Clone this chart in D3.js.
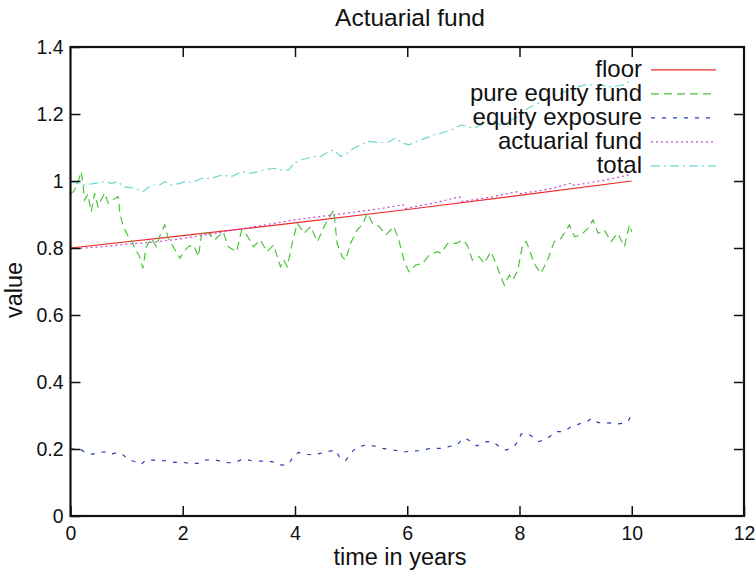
<!DOCTYPE html>
<html>
<head>
<meta charset="utf-8">
<script src="https://cdn.jsdelivr.net/npm/d3@7"></script>
<style>
	body { margin: 0; background: #fff; }
	svg { display: block; font-family: "Liberation Sans", Arial, sans-serif; }
	.line { fill: none; stroke-width: 1.2; }
</style>
</head>
<body>
<svg id="chart" width="756" height="571"></svg>
<script>
/* global d3 */
// values: [time in years, value]
const floor = [[0, 0.8], [2, 0.837], [4, 0.875], [6, 0.915], [8, 0.957], [10, 1.0]];

const pureEquityFund = [
	[0, 0.965], [0.05, 0.967], [0.12, 0.99], [0.19, 1.028], [0.22, 0.994], [0.25, 0.943], [0.31, 0.96], [0.37, 0.908],
	[0.43, 0.964], [0.49, 0.923], [0.55, 0.945], [0.61, 0.964], [0.67, 0.934], [0.76, 0.945], [0.85, 0.953], [0.88, 0.904],
	[0.94, 0.864], [1.03, 0.834], [1.1, 0.82], [1.15, 0.794], [1.22, 0.78], [1.29, 0.739], [1.35, 0.804], [1.44, 0.829],
	[1.53, 0.804], [1.6, 0.84], [1.68, 0.869], [1.74, 0.829], [1.83, 0.804], [1.95, 0.769], [2.02, 0.79], [2.1, 0.804],
	[2.19, 0.809], [2.28, 0.774], [2.34, 0.849], [2.46, 0.844], [2.57, 0.824], [2.72, 0.849], [2.81, 0.804], [2.96, 0.789],
	[3.05, 0.854], [3.14, 0.839], [3.26, 0.804], [3.38, 0.824], [3.5, 0.789], [3.62, 0.809], [3.74, 0.744], [3.8, 0.764],
	[3.86, 0.744], [3.95, 0.814], [4.04, 0.874], [4.16, 0.844], [4.28, 0.864], [4.4, 0.819], [4.49, 0.854], [4.58, 0.884],
	[4.69, 0.913], [4.75, 0.814], [4.84, 0.774], [4.9, 0.764], [4.99, 0.814], [5.11, 0.854], [5.2, 0.87], [5.29, 0.904],
	[5.38, 0.874], [5.5, 0.864], [5.62, 0.839], [5.76, 0.864], [5.85, 0.824], [5.94, 0.764], [6.03, 0.729], [6.15, 0.749],
	[6.27, 0.754], [6.39, 0.779], [6.54, 0.789], [6.6, 0.784], [6.72, 0.814], [6.87, 0.814], [6.99, 0.824], [7.07, 0.809],
	[7.16, 0.764], [7.28, 0.774], [7.37, 0.754], [7.49, 0.789], [7.58, 0.754], [7.67, 0.714], [7.73, 0.689], [7.82, 0.719],
	[7.88, 0.704], [7.97, 0.734], [8.06, 0.814], [8.12, 0.819], [8.18, 0.794], [8.26, 0.754], [8.38, 0.724], [8.5, 0.764],
	[8.62, 0.819], [8.74, 0.829], [8.89, 0.869], [8.98, 0.834], [9.1, 0.839], [9.22, 0.859], [9.31, 0.884], [9.4, 0.844],
	[9.51, 0.854], [9.63, 0.819], [9.75, 0.844], [9.87, 0.804], [9.96, 0.869], [10, 0.849]
];

const equityExposure = [
	[0, 0.199], [0.16, 0.202], [0.28, 0.187], [0.4, 0.185], [0.49, 0.189], [0.64, 0.192], [0.73, 0.185], [0.82, 0.189],
	[0.94, 0.182], [1.03, 0.169], [1.15, 0.162], [1.26, 0.154], [1.34, 0.167], [1.5, 0.167], [1.68, 0.165], [1.86, 0.16],
	[2.01, 0.16], [2.13, 0.157], [2.28, 0.157], [2.4, 0.167], [2.54, 0.169], [2.66, 0.164], [2.81, 0.159], [2.93, 0.16],
	[3.08, 0.17], [3.23, 0.165], [3.38, 0.164], [3.53, 0.164], [3.65, 0.16], [3.76, 0.152], [3.88, 0.154], [3.97, 0.177],
	[4.06, 0.19], [4.18, 0.185], [4.33, 0.182], [4.45, 0.187], [4.57, 0.192], [4.72, 0.197], [4.79, 0.177], [4.9, 0.165],
	[4.99, 0.187], [5.1, 0.205], [5.26, 0.212], [5.41, 0.209], [5.56, 0.202], [5.68, 0.199], [5.83, 0.195], [5.94, 0.191],
	[6.09, 0.194], [6.24, 0.195], [6.39, 0.201], [6.51, 0.202], [6.63, 0.202], [6.78, 0.209], [6.9, 0.214], [6.99, 0.232],
	[7.07, 0.229], [7.16, 0.219], [7.24, 0.209], [7.34, 0.219], [7.43, 0.222], [7.52, 0.222], [7.64, 0.207], [7.76, 0.197],
	[7.89, 0.205], [7.97, 0.222], [8.03, 0.245], [8.15, 0.245], [8.25, 0.235], [8.35, 0.222], [8.5, 0.232], [8.65, 0.252],
	[8.8, 0.252], [8.92, 0.267], [9.07, 0.275], [9.2, 0.281], [9.29, 0.292], [9.4, 0.279], [9.51, 0.279], [9.63, 0.277],
	[9.75, 0.275], [9.87, 0.277], [9.94, 0.284], [10, 0.304]
];

const actuarialFund = [
	[0, 0.797], [0.5, 0.803], [1, 0.811], [1.5, 0.818], [2, 0.828], [2.5, 0.842], [3, 0.856], [3.5, 0.87], [4, 0.884],
	[4.5, 0.895], [5, 0.906], [5.5, 0.917], [5.93, 0.929], [5.97, 0.918], [6.5, 0.935], [6.93, 0.953], [6.98, 0.939],
	[7.5, 0.952], [7.95, 0.968], [8, 0.962], [8.5, 0.975], [8.93, 0.994], [8.97, 0.987], [9.5, 1.002], [10, 1.02]
];

const total = [
	[0, 0.998], [0.25, 0.988], [0.43, 0.993], [0.61, 0.998], [0.73, 0.993], [0.85, 0.998], [0.94, 0.983], [1.15, 0.978],
	[1.29, 0.968], [1.44, 0.988], [1.59, 0.988], [1.68, 0.998], [1.8, 0.988], [1.95, 0.993], [2.04, 0.998], [2.16, 0.995],
	[2.34, 1.008], [2.51, 1.008], [2.69, 1.018], [2.87, 1.013], [3.05, 1.028], [3.2, 1.023], [3.35, 1.028], [3.44, 1.033],
	[3.62, 1.038], [3.74, 1.033], [3.89, 1.033], [3.98, 1.053], [4.1, 1.063], [4.22, 1.068], [4.34, 1.073], [4.46, 1.073],
	[4.6, 1.088], [4.69, 1.093], [4.81, 1.073], [4.93, 1.083], [5.05, 1.098], [5.17, 1.108], [5.32, 1.118], [5.47, 1.115],
	[5.65, 1.115], [5.79, 1.128], [5.91, 1.113], [6.03, 1.108], [6.18, 1.118], [6.33, 1.128], [6.48, 1.138], [6.6, 1.143],
	[6.78, 1.152], [6.96, 1.167], [7.08, 1.162], [7.19, 1.157], [7.31, 1.167], [7.43, 1.172], [7.55, 1.177], [7.67, 1.167],
	[7.79, 1.177], [7.97, 1.192], [8.15, 1.217], [8.33, 1.232], [8.5, 1.247], [8.74, 1.262], [8.98, 1.277], [9.16, 1.287],
	[9.4, 1.287], [9.63, 1.281], [9.87, 1.287], [10, 1.303]
];

const xTicks = [0, 2, 4, 6, 8, 10, 12];
const yTicks = [0, 0.2, 0.4, 0.6, 0.8, 1, 1.2, 1.4];

const series = [
	{ name: 'floor', data: floor, color: '#ee2b2b', dash: null },
	{ name: 'pure equity fund', data: pureEquityFund, color: '#4cc43a', dash: '8,5' },
	{ name: 'equity exposure', data: equityExposure, color: '#2a3eb4', dash: '4,7' },
	{ name: 'actuarial fund', data: actuarialFund, color: '#c848c8', dash: '2,3' },
	{ name: 'total', data: total, color: '#6fd6cf', dash: '9,4,2,4' }
];

const svg = d3.select('#chart'),
	margin = { top: 47, right: 12, bottom: 55, left: 70.5 },
	width = +svg.attr('width') - margin.left - margin.right,
	height = +svg.attr('height') - margin.top - margin.bottom,
	g = svg.append('g').attr('transform', 'translate(' + margin.left + ',' + margin.top + ')');

const x = d3.scaleLinear().domain([0, 12]).range([0, width]);
const y = d3.scaleLinear().domain([0, 1.4]).range([height, 0]);

const line = d3.line()
	.x(d => x(d[0]))
	.y(d => y(d[1]));

// curves first, the frame and ticks go on top
series.forEach(s => {
	g.append('path')
		.datum(s.data)
		.attr('class', 'line')
		.attr('stroke', s.color)
		.attr('stroke-dasharray', s.dash)
		.attr('d', line);
});

// ticks inward, mirrored on all four sides (gnuplot style)
const tick = 10;
const axisStyle = sel => {
	sel.select('.domain').remove();
	sel.selectAll('.tick line').attr('stroke', '#111').attr('stroke-width', 1.5);
	sel.selectAll('.tick text').attr('fill', '#111').style('font-size', '19.5px');
};
g.append('g').attr('transform', 'translate(0,' + height + ')')
	.call(d3.axisBottom(x).tickValues(xTicks).tickFormat(d3.format('d')).tickSizeInner(-tick).tickPadding(10))
	.call(axisStyle)
	.call(a => a.selectAll('.tick text').attr('dy', '0.71em'));
g.append('g')
	.call(d3.axisTop(x).tickValues(xTicks.slice(1, -1)).tickFormat('').tickSizeInner(-tick))
	.call(axisStyle);
g.append('g')
	.call(d3.axisLeft(y).tickValues(yTicks).tickFormat(d => String(+d.toFixed(1))).tickSizeInner(-tick).tickPadding(7))
	.call(axisStyle);
g.append('g').attr('transform', 'translate(' + width + ',0)')
	.call(d3.axisRight(y).tickValues(yTicks.slice(1, -1)).tickFormat('').tickSizeInner(-tick))
	.call(axisStyle);

g.append('rect')
	.attr('width', width).attr('height', height)
	.attr('fill', 'none').attr('stroke', '#111').attr('stroke-width', 2.2);

// legend (inside top right)
const legend = g.append('g').attr('transform', 'translate(' + (642 - margin.left) + ',' + (77.3 - margin.top) + ')');
series.forEach((s, i) => {
	const row = legend.append('g').attr('transform', 'translate(0,' + i * 24 + ')');
	row.append('text')
		.attr('text-anchor', 'end')
		.style('font-size', '24px')
		.attr('fill', '#111')
		.text(s.name);
	row.append('line')
		.attr('x1', 9).attr('x2', 74)
		.attr('y1', -7.5).attr('y2', -7.5)
		.attr('stroke', s.color)
		.attr('stroke-width', 1.2)
		.attr('stroke-dasharray', s.dash);
});

svg.append('text')
	.attr('x', 410).attr('y', 26)
	.attr('text-anchor', 'middle')
	.style('font-size', '24.5px')
	.attr('fill', '#111')
	.text('Actuarial fund');

svg.append('text')
	.attr('x', 400).attr('y', 565)
	.attr('text-anchor', 'middle')
	.style('font-size', '23.5px')
	.attr('fill', '#111')
	.text('time in years');

svg.append('text')
	.attr('transform', 'translate(21.5,290) rotate(-90)')
	.attr('text-anchor', 'middle')
	.style('font-size', '23.5px')
	.attr('fill', '#111')
	.text('value');
</script>
</body>
</html>
